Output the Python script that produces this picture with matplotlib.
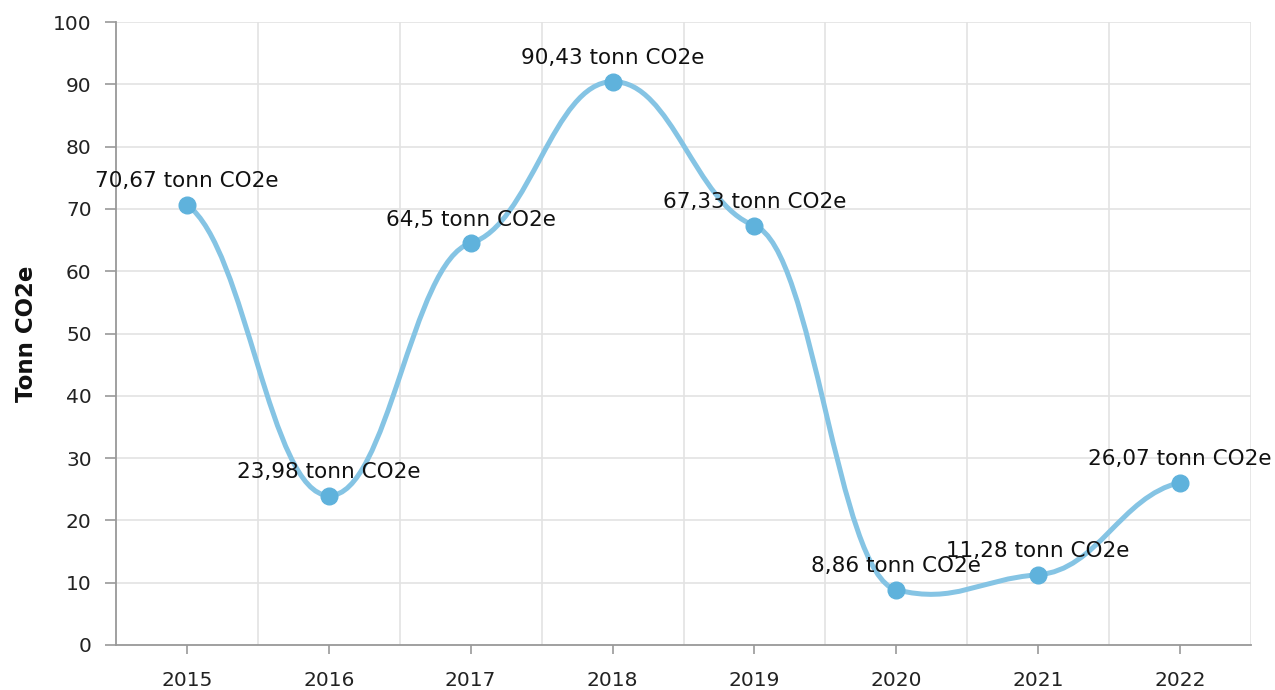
import matplotlib
matplotlib.use("Agg")
import matplotlib.pyplot as plt
from matplotlib.path import Path
from matplotlib.patches import PathPatch

# Data
years = ["2015", "2016", "2017", "2018", "2019", "2020", "2021", "2022"]
values = [70.67, 23.98, 64.5, 90.43, 67.33, 8.86, 11.28, 26.07]
labels = ["70,67 tonn CO2e", "23,98 tonn CO2e", "64,5 tonn CO2e", "90,43 tonn CO2e",
          "67,33 tonn CO2e", "8,86 tonn CO2e", "11,28 tonn CO2e", "26,07 tonn CO2e"]

line_color = "#85c4e4"
marker_color = "#5fb2dc"


def smooth_path(xs, ys, arm=0.42, k=0.2, k_end=0.35):
    # bezier through the points, flattened tangents (small share of the centred slope)
    n = len(xs)
    slopes = [0.0] * n
    for i in range(1, n - 1):
        slopes[i] = k * (ys[i + 1] - ys[i - 1]) / (xs[i + 1] - xs[i - 1])
    slopes[0] = k_end * (ys[1] - ys[0]) / (xs[1] - xs[0])
    slopes[-1] = k_end * (ys[-1] - ys[-2]) / (xs[-1] - xs[-2])
    verts = [(xs[0], ys[0])]
    codes = [Path.MOVETO]
    for i in range(1, n):
        dx = (xs[i] - xs[i - 1]) * arm
        verts += [(xs[i - 1] + dx, ys[i - 1] + dx * slopes[i - 1]),
                  (xs[i] - dx, ys[i] - dx * slopes[i]),
                  (xs[i], ys[i])]
        codes += [Path.CURVE4] * 3
    return Path(verts, codes)


fig = plt.figure(figsize=(12.75, 6.9), dpi=100)
ax = fig.add_axes([116 / 1275, 45 / 690, 1135 / 1275, 623 / 690])

xs = list(range(len(years)))

ax.add_patch(PathPatch(smooth_path(xs, values), facecolor="none",
                       edgecolor=line_color, lw=3.6, capstyle="round", zorder=3))
ax.plot(xs, values, "o", color=marker_color, markersize=12, zorder=4)

for x, v, lab in zip(xs, values, labels):
    ax.annotate(lab, (x, v), xytext=(0, 12.5), textcoords="offset points",
                ha="center", va="baseline", fontsize=15.5, color="#111111", zorder=5)

ax.set_xlim(-0.5, len(years) - 0.5)
ax.set_ylim(0, 100)
ax.set_yticks(range(0, 101, 10))
ax.set_xticks(xs)
ax.set_xticklabels(years)

# grid lines: horizontal at y ticks, vertical at category boundaries
for y in range(10, 101, 10):
    ax.axhline(y, color="#e3e3e3", lw=1.2, zorder=0)
for b in range(len(years)):
    ax.axvline(b + 0.5, color="#e3e3e3", lw=1.2, zorder=0)

for s in ["top", "right"]:
    ax.spines[s].set_visible(False)
for s in ["left", "bottom"]:
    ax.spines[s].set_color("#999999")
    ax.spines[s].set_linewidth(1.3)

ax.tick_params(axis="both", colors="#999999", labelcolor="#222222",
               labelsize=14.5, length=8, width=1.2)
ax.tick_params(axis="y", pad=9.5)
ax.tick_params(axis="x", pad=12.5, length=6.5)

ax.set_ylabel("Tonn CO2e", fontsize=16.5, fontweight="bold", color="#111111", labelpad=11)

fig.savefig("out.png", dpi=100)
